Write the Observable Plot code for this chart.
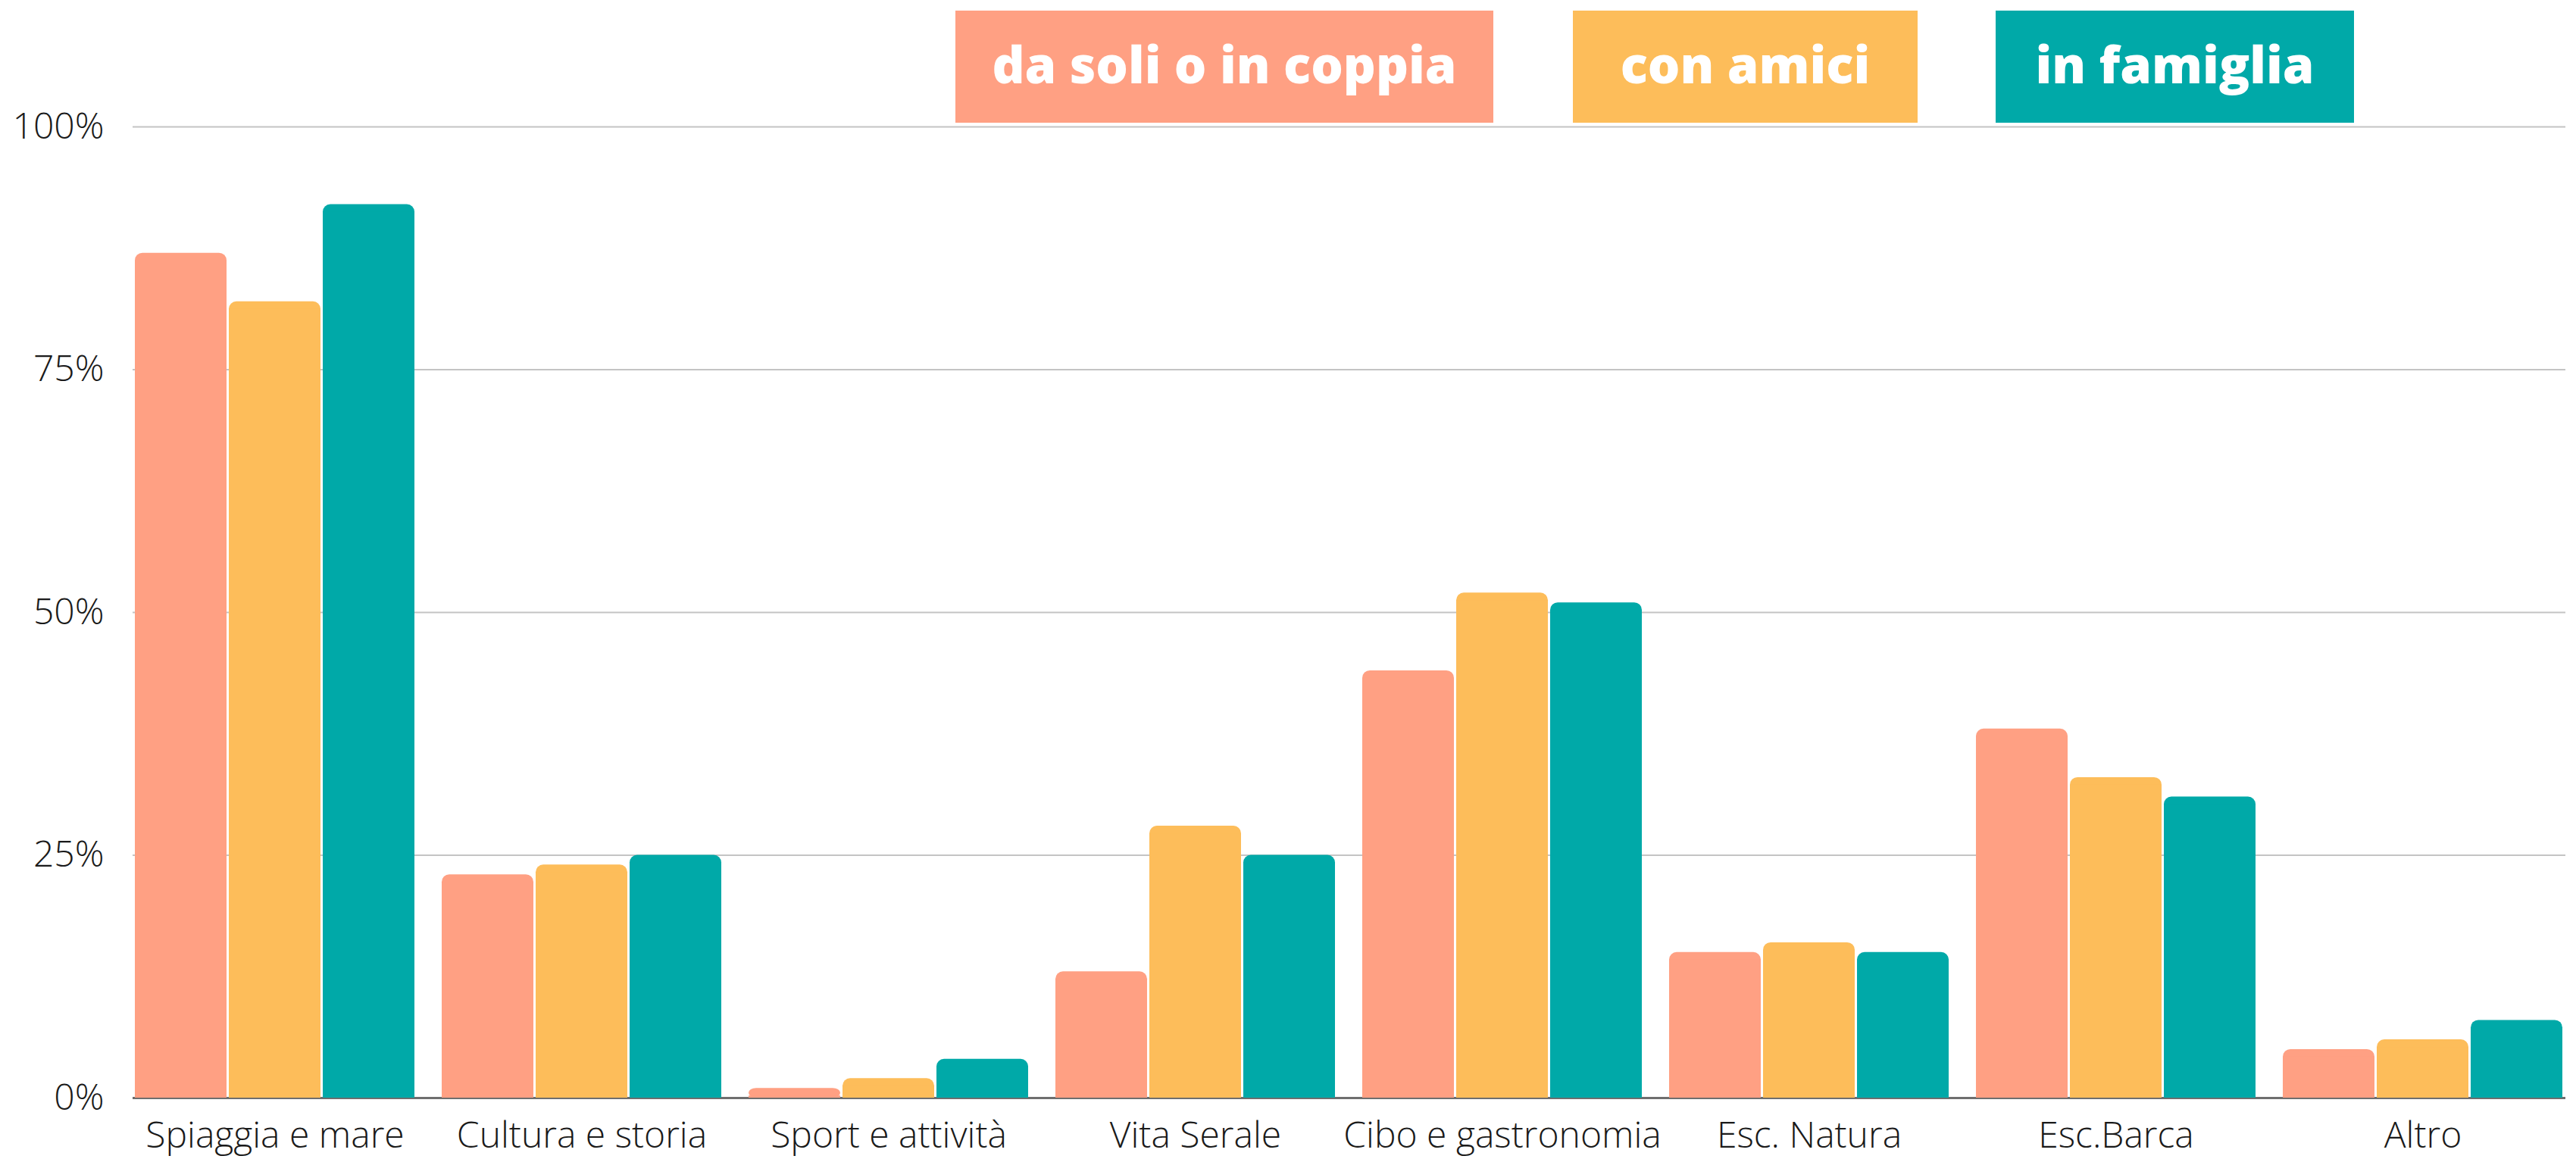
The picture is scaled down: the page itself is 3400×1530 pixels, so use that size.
<!DOCTYPE html>
<html><head><meta charset="utf-8">
<script src="https://cdn.jsdelivr.net/npm/d3@7"></script>
<script src="https://cdn.jsdelivr.net/npm/@observablehq/plot@0.6"></script>
<style>
html,body{margin:0;padding:0;background:#fff;}
#wrap{position:relative;width:3400px;height:1530px;overflow:hidden;}
#wrap svg{position:absolute;left:0;top:0;}
#legend{position:absolute;top:14px;left:1261px;height:148px;display:flex;}
.key{height:148px;display:flex;align-items:center;justify-content:center;color:#fff;font-family:"Open Sans";font-weight:800;font-size:67px;box-sizing:border-box;padding-bottom:8px;}
</style></head><body>
<div id="wrap"><div id="legend"></div></div>
<script>
const categories = ["Spiaggia e mare","Cultura e storia","Sport e attività","Vita Serale","Cibo e gastronomia","Esc. Natura","Esc.Barca","Altro"];
const series = ["da soli o in coppia","con amici","in famiglia"];
const soloCoppia = [87,23,1,13,44,15,38,5];
const conAmici   = [82,24,2,28,52,16,33,6];
const inFamiglia = [92,25,4,25,51,15,31,8];
const seriesColors = ["#FFA083","#FDBD5A","#00A9A8"];
const yTicks = [0,25,50,75,100];

const valuesBySeries = [soloCoppia, conAmici, inFamiglia];
const data = categories.flatMap((c, i) => series.map((s, j) => ({category: c, series: s, value: valuesBySeries[j][i]})));

const common = {
  width: 3400,
  height: 1530,
  marginLeft: 175,
  marginRight: 14,
  marginTop: 167,
  marginBottom: 81,
  style: {fontFamily: "'Open Sans', sans-serif", fontSize: "48px", fontWeight: 300, color: "#1a1a1a", background: "transparent"}
};

// Background layer: y axis, gridlines and baseline spanning the full frame
const gridLayer = Plot.plot({
  ...common,
  style: {...common.style, background: "#fff"},
  y: {domain: [0, 100], ticks: yTicks, tickSize: 0, tickPadding: 38, tickFormat: d => d + "%", label: null},
  marks: [
    Plot.ruleY(yTicks.filter(d => d > 0), {stroke: "#c4c4c4", strokeWidth: 2}),
    Plot.ruleY([0], {stroke: "#6e6e6e", strokeWidth: 3})
  ]
});

// Foreground layer: grouped bars
const barLayer = Plot.plot({
  ...common,
  fx: {domain: categories, label: null, tickSize: 0, tickPadding: 31, axis: "bottom", paddingInner: 0.083, paddingOuter: 0},
  x: {domain: series, axis: null, paddingInner: 0.024, paddingOuter: 0},
  y: {domain: [0, 100], axis: null},
  color: {domain: series, range: seriesColors},
  marks: [
    Plot.barY(data, {fx: "category", x: "series", y: "value", fill: "series", rx: 10}),
    Plot.barY(data, {fx: "category", x: "series", y: "value", fill: "series", insetTop: 10})
  ]
});

const wrap = document.getElementById("wrap");
wrap.insertBefore(barLayer, wrap.firstChild);
wrap.insertBefore(gridLayer, wrap.firstChild);

const keyWidths = [710, 455, 473];
const keyGaps = [0, 105, 103];
const legend = document.getElementById("legend");
series.forEach((s, j) => {
  const d = document.createElement("div");
  d.className = "key";
  d.textContent = s;
  d.style.background = seriesColors[j];
  d.style.width = keyWidths[j] + "px";
  d.style.marginLeft = keyGaps[j] + "px";
  legend.appendChild(d);
});
</script>
</body></html>
